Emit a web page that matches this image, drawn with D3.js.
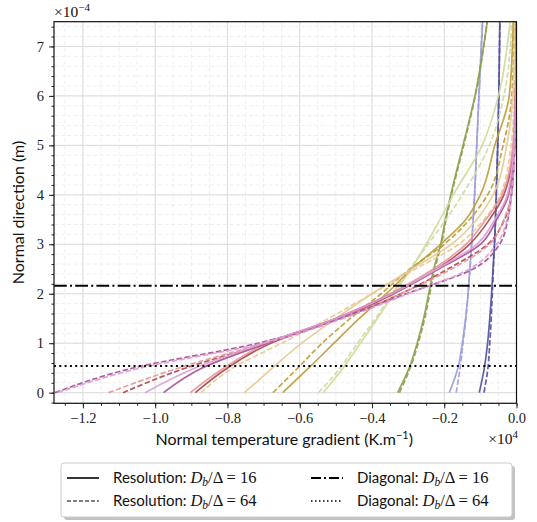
<!DOCTYPE html>
<html>
<head>
    <title>Normal temperature gradient</title>
    <script src="https://d3js.org/d3.v7.min.js"></script>
    <style>
        body { margin: 0; background: white; }
        .tick text { font-family: "Liberation Serif", serif; font-size: 14.5px; fill: #222; }
        .lbl { font-family: "Lato", "DejaVu Sans", sans-serif; font-size: 15px; fill: #111; }
        .mathtxt { font-family: "Liberation Serif", serif; font-size: 15.5px; fill: #111; }
        .leg { font-family: "Lato", "DejaVu Sans", sans-serif; font-size: 15px; fill: #111; }
        .legm { font-family: "Liberation Serif", serif; font-size: 16.5px; fill: #111; }
    </style>
</head>
<body>
    <svg id="chart" width="537" height="522"></svg>

    <script>
        // heights along the normal (x1e-4 m) where every curve was read
        const heights = [0, 0.5, 1, 1.5, 2, 2.5, 3, 3.5, 4, 5, 6, 7.5];

        // tab20b odd shades, one per case
        const colors = ["#5254a3", "#9c9ede", "#8ca252", "#cedb9c", "#bd9e39",
                        "#e7cb94", "#ad494a", "#e7969c", "#a55194", "#de9ed6"];

        // gradient (x1e4 K/m) at each height, resolution Db/Δ = 16 (solid)
        const res16 = [
            [-0.103, -0.089, -0.080, -0.074, -0.069, -0.065, -0.061, -0.058, -0.056, -0.052, -0.049, -0.046],
            [-0.186, -0.162, -0.150, -0.141, -0.134, -0.129, -0.124, -0.120, -0.116, -0.110, -0.104, -0.094],
            [-0.329, -0.297, -0.275, -0.257, -0.243, -0.229, -0.210, -0.197, -0.182, -0.148, -0.115, -0.081],
            [-0.535, -0.480, -0.432, -0.385, -0.340, -0.292, -0.250, -0.212, -0.175, -0.095, -0.050, -0.018],
            [-0.647, -0.575, -0.505, -0.435, -0.360, -0.290, -0.210, -0.140, -0.100, -0.060, -0.020, -0.009],
            [-0.753, -0.675, -0.595, -0.500, -0.400, -0.290, -0.180, -0.110, -0.065, -0.027, -0.010, -0.004],
            [-0.889, -0.800, -0.680, -0.490, -0.340, -0.220, -0.130, -0.075, -0.035, -0.008, -0.003, 0],
            [-0.903, -0.810, -0.690, -0.500, -0.350, -0.230, -0.140, -0.085, -0.040, -0.010, -0.003, 0],
            [-0.977, -0.870, -0.690, -0.500, -0.345, -0.215, -0.100, -0.055, -0.022, -0.006, -0.002, 0],
            [-1.028, -0.890, -0.700, -0.500, -0.345, -0.220, -0.110, -0.060, -0.025, -0.007, -0.002, 0]
        ];

        // same cases at resolution Db/Δ = 64 (dashed)
        const res64 = [
            [-0.090, -0.079, -0.074, -0.070, -0.067, -0.064, -0.061, -0.058, -0.056, -0.052, -0.049, -0.046],
            [-0.167, -0.156, -0.148, -0.140, -0.134, -0.129, -0.124, -0.120, -0.116, -0.110, -0.104, -0.094],
            [-0.324, -0.294, -0.272, -0.254, -0.240, -0.226, -0.208, -0.195, -0.180, -0.146, -0.114, -0.081],
            [-0.548, -0.488, -0.440, -0.390, -0.345, -0.295, -0.245, -0.195, -0.150, -0.075, -0.035, -0.013],
            [-0.674, -0.605, -0.538, -0.460, -0.375, -0.295, -0.200, -0.130, -0.080, -0.037, -0.013, -0.006],
            [-0.873, -0.785, -0.650, -0.520, -0.400, -0.280, -0.160, -0.090, -0.045, -0.015, -0.006, -0.003],
            [-1.089, -0.915, -0.690, -0.485, -0.320, -0.190, -0.080, -0.033, -0.014, -0.005, -0.002, 0],
            [-1.129, -0.935, -0.700, -0.490, -0.320, -0.180, -0.075, -0.035, -0.015, -0.005, -0.002, 0],
            [-1.277, -1.060, -0.715, -0.490, -0.305, -0.120, -0.047, -0.024, -0.014, -0.005, -0.001, 0],
            [-1.270, -1.040, -0.700, -0.480, -0.300, -0.130, -0.055, -0.026, -0.014, -0.005, -0.001, 0]
        ];

        // diagonal positions (x1e-4 m)
        const diagonal16 = 2.16;
        const diagonal64 = 0.54;

        const xTicks = [-1.2, -1.0, -0.8, -0.6, -0.4, -0.2, 0.0];
        const yTicks = [0, 1, 2, 3, 4, 5, 6, 7];
        const xMinor = d3.range(-1.25, 0.001, 0.05);
        const yMinor = d3.range(-0.2, 7.51, 0.2);

        const svg = d3.select("svg#chart");
        const margin = { top: 21.7, right: 20.5, bottom: 118.7, left: 54 };
        const width = +svg.attr("width") - margin.left - margin.right;
        const height = +svg.attr("height") - margin.top - margin.bottom;

        const x = d3.scaleLinear().domain([-1.28, 0]).range([0, width]);
        const y = d3.scaleLinear().domain([-0.215, 7.5]).range([height, 0]);

        const g = svg.append("g").attr("transform", "translate(" + margin.left + "," + margin.top + ")");

        g.append("clipPath").attr("id", "plot-clip")
            .append("rect").attr("width", width).attr("height", height);

        // minor grid (dashed) then major grid
        g.selectAll(".vminor").data(xMinor).join("line")
            .attr("x1", d => x(d)).attr("x2", d => x(d))
            .attr("y1", 0).attr("y2", height)
            .attr("stroke", "#ebebeb").attr("stroke-dasharray", "4,2.5").attr("stroke-width", 0.8);
        g.selectAll(".hminor").data(yMinor).join("line")
            .attr("y1", d => y(d)).attr("y2", d => y(d))
            .attr("x1", 0).attr("x2", width)
            .attr("stroke", "#ebebeb").attr("stroke-dasharray", "4,2.5").attr("stroke-width", 0.8);
        g.selectAll(".vmajor").data(xTicks).join("line")
            .attr("x1", d => x(d)).attr("x2", d => x(d))
            .attr("y1", 0).attr("y2", height)
            .attr("stroke", "#dcdcdc").attr("stroke-width", 1);
        g.selectAll(".hmajor").data(yTicks).join("line")
            .attr("y1", d => y(d)).attr("y2", d => y(d))
            .attr("x1", 0).attr("x2", width)
            .attr("stroke", "#dcdcdc").attr("stroke-width", 1);

        const line = d3.line()
            .x(d => x(d[0]))
            .y(d => y(d[1]))
            .curve(d3.curveMonotoneY);

        const curves = g.append("g").attr("clip-path", "url(#plot-clip)");
        colors.forEach((c, i) => {
            curves.append("path")
                .datum(res16[i].map((v, k) => [v, heights[k]]))
                .attr("d", line)
                .attr("fill", "none")
                .attr("stroke", c)
                .attr("stroke-width", 1.7)
                .attr("stroke-opacity", 0.92);
            curves.append("path")
                .datum(res64[i].map((v, k) => [v, heights[k]]))
                .attr("d", line)
                .attr("fill", "none")
                .attr("stroke", c)
                .attr("stroke-width", 1.7)
                .attr("stroke-opacity", 0.92)
                .attr("stroke-dasharray", "5.5,2.4");
        });

        // diagonal markers
        curves.append("line")
            .attr("x1", 0).attr("x2", width)
            .attr("y1", y(diagonal16)).attr("y2", y(diagonal16))
            .attr("stroke", "black").attr("stroke-width", 2)
            .attr("stroke-dasharray", "12.8,3.2,2,3.2");
        curves.append("line")
            .attr("x1", 0).attr("x2", width)
            .attr("y1", y(diagonal64)).attr("y2", y(diagonal64))
            .attr("stroke", "black").attr("stroke-width", 2)
            .attr("stroke-dasharray", "2,3.3");

        // axes
        const fmt = d => (d < 0 ? "\u2212" : "") + Math.abs(d).toFixed(1);
        g.append("g").attr("transform", "translate(0," + height + ")")
            .call(d3.axisBottom(x).tickValues(xMinor).tickSize(2.5).tickFormat(""))
            .call(a => a.select(".domain").remove());
        g.append("g").attr("transform", "translate(0," + height + ")")
            .call(d3.axisBottom(x).tickValues(xTicks).tickSize(5).tickPadding(4).tickFormat(fmt))
            .call(a => a.select(".domain").remove());
        g.append("g")
            .call(d3.axisLeft(y).tickValues(yMinor).tickSize(2.5).tickFormat(""))
            .call(a => a.select(".domain").remove());
        g.append("g")
            .call(d3.axisLeft(y).tickValues(yTicks).tickSize(5).tickPadding(5).tickFormat(d3.format("d")))
            .call(a => a.select(".domain").remove());
        g.selectAll(".tick line").attr("stroke", "#222");

        g.append("rect")
            .attr("width", width).attr("height", height)
            .attr("fill", "none").attr("stroke", "#111").attr("stroke-width", 1.2);

        // axis labels and offsets
        svg.append("text").attr("class", "lbl")
            .attr("text-anchor", "middle")
            .style("font-size", "16px")
            .attr("transform", "translate(24," + (margin.top + height / 2) + ") rotate(-90)")
            .text("Normal direction (m)");

        const xl = svg.append("text").attr("class", "lbl")
            .attr("text-anchor", "middle")
            .style("font-size", "16px")
            .attr("x", margin.left + width / 2 - 1).attr("y", 445);
        xl.append("tspan").text("Normal temperature gradient (K.m");
        xl.append("tspan").attr("dy", -6).style("font-size", "11px").text("\u22121");
        xl.append("tspan").attr("dy", 6).text(")");

        const xo = svg.append("text").attr("class", "mathtxt")
            .attr("text-anchor", "end").attr("x", 518).attr("y", 444);
        xo.append("tspan").text("\u00d710");
        xo.append("tspan").attr("dy", -6).style("font-size", "11px").text("4");

        const yo = svg.append("text").attr("class", "mathtxt")
            .attr("x", 54).attr("y", 17);
        yo.append("tspan").text("\u00d710");
        yo.append("tspan").attr("dy", -6).style("font-size", "11px").text("\u22124");

        // legend
        const legendEntries = [
            { kind: "Resolution: ", value: "16", dash: null, w: 1.6, col: 0, row: 0 },
            { kind: "Resolution: ", value: "64", dash: "4,2", w: 1.2, col: 0, row: 1 },
            { kind: "Diagonal: ", value: "16", dash: "10,3,2,3", w: 2, col: 1, row: 0 },
            { kind: "Diagonal: ", value: "64", dash: "1.5,2.5", w: 1.5, col: 1, row: 1 }
        ];
        const lg = svg.append("g");
        lg.append("rect")
            .attr("x", 64).attr("y", 466).attr("width", 451).attr("height", 54).attr("rx", 3)
            .attr("fill", "#999").attr("opacity", 0.6);
        lg.append("rect")
            .attr("x", 61).attr("y", 463).attr("width", 451).attr("height", 54).attr("rx", 3)
            .attr("fill", "white").attr("stroke", "#cccccc").attr("stroke-width", 1);

        const colX = [67, 311];
        const rowY = [478, 501];
        legendEntries.forEach(e => {
            const lx = colX[e.col], ly = rowY[e.row];
            lg.append("line")
                .attr("x1", lx).attr("x2", lx + 32).attr("y1", ly).attr("y2", ly)
                .attr("stroke", "black").attr("stroke-width", e.w)
                .attr("stroke-dasharray", e.dash);
            const t = lg.append("text").attr("x", lx + 46).attr("y", ly + 5);
            t.append("tspan").attr("class", "leg").text(e.kind);
            t.append("tspan").attr("class", "legm").style("font-style", "italic").text("D");
            t.append("tspan").attr("class", "legm").style("font-style", "italic")
                .style("font-size", "11.5px").attr("dy", 3).text("b");
            t.append("tspan").attr("class", "legm").attr("dy", -3).text("/\u0394 = " + e.value);
        });
    </script>
</body>
</html>
